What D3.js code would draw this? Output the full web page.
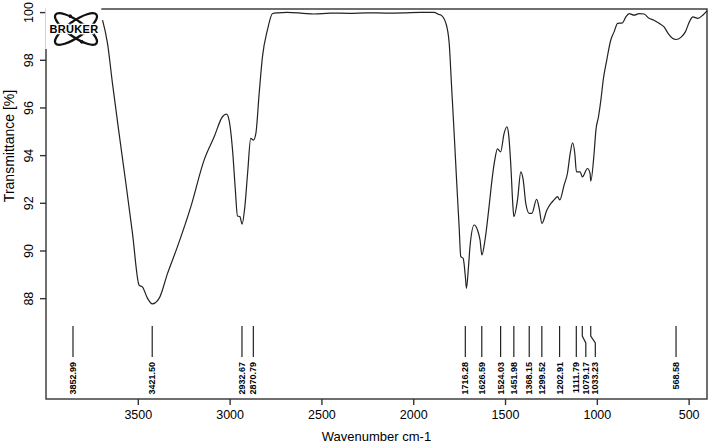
<!DOCTYPE html>
<html>
<head>
<meta charset="utf-8">
<script src="https://cdn.jsdelivr.net/npm/d3@7"></script>
<style>
  body { margin: 0; background: #fff; }
  text { font-family: "Liberation Sans", Arial, sans-serif; fill: #000; }
</style>
</head>
<body>
<div id="chart"></div>
<script>
// Spectrum (wavenumber cm-1, transmittance %)
var wavenumber = [3692, 3665, 3638, 3602, 3565, 3529, 3493, 3474, 3447, 3421, 3384, 3338, 3284, 3211, 3139, 3084, 3039, 3017, 3003, 2984, 2970, 2957, 2944, 2932, 2917, 2902, 2885, 2870, 2857, 2839, 2821, 2794, 2766, 2739, 2685, 2600, 2541, 2450, 2350, 2250, 2150, 2050, 1960, 1886, 1860, 1850, 1822, 1804, 1792, 1777, 1763, 1750, 1741, 1728, 1716, 1710, 1699, 1690, 1668, 1650, 1636, 1626, 1609, 1587, 1569, 1556, 1541, 1524, 1505, 1490, 1481, 1468, 1458, 1452, 1432, 1414, 1401, 1387, 1368, 1354, 1328, 1314, 1299, 1272, 1250, 1233, 1214, 1202, 1178, 1160, 1145, 1132, 1120, 1111, 1091, 1079, 1051, 1037, 1033, 1015, 1005, 991, 978, 964, 946, 924, 906, 887, 860, 842, 824, 797, 770, 743, 716, 689, 661, 634, 612, 588, 569, 542, 518, 496, 477, 450, 423, 400];
var transmittance = [99.66, 98.69, 97.01, 94.91, 92.82, 90.72, 88.55, 88.46, 87.99, 87.76, 87.99, 89.04, 90.16, 91.84, 93.79, 94.77, 95.61, 95.72, 95.47, 94.21, 92.68, 91.45, 91.42, 91.11, 91.84, 93.24, 94.70, 94.63, 94.91, 96.59, 98.13, 99.25, 99.94, 99.97, 99.99, 99.95, 99.92, 99.96, 99.95, 99.97, 99.96, 99.97, 99.99, 99.99, 99.90, 99.88, 99.53, 98.69, 97.01, 94.91, 92.82, 91.00, 89.74, 89.67, 88.90, 88.41, 89.32, 90.23, 91.07, 90.86, 90.44, 89.81, 90.44, 91.84, 93.09, 93.79, 94.26, 94.14, 94.91, 95.19, 94.91, 93.51, 91.98, 91.42, 92.12, 93.30, 92.96, 91.98, 91.56, 91.56, 92.15, 91.77, 91.14, 91.70, 91.98, 92.12, 92.26, 92.12, 92.75, 93.24, 94.07, 94.52, 94.07, 93.30, 93.30, 93.09, 93.44, 93.24, 92.91, 94.07, 95.05, 95.61, 96.31, 97.22, 97.99, 98.83, 99.17, 99.53, 99.55, 99.80, 99.94, 99.87, 99.94, 99.92, 99.74, 99.66, 99.53, 99.38, 99.11, 98.90, 98.85, 98.94, 99.17, 99.59, 99.80, 99.74, 99.87, 100.05];

// Labelled peaks
var peaks = [3852.99, 3421.50, 2932.67, 2870.79, 1716.28, 1626.59, 1524.03, 1451.98, 1368.15, 1299.52, 1202.91, 1111.79, 1079.17, 1033.23, 568.58];

var xTicks = [3500, 3000, 2500, 2000, 1500, 1000, 500];
var yTicks = [88, 90, 92, 94, 96, 98, 100];

var W = 709, H = 445;
var mL = 46, mR = 707, mT = 9, mB = 399;

var x = d3.scaleLinear().domain([4000, 400]).range([mL, mR]);
var y = d3.scaleLinear().domain([83.77, 100.13]).range([mB, mT]);

var svg = d3.select("#chart").append("svg")
  .attr("width", W)
  .attr("height", H);

// frame
svg.append("rect")
  .attr("x", mL).attr("y", mT)
  .attr("width", mR - mL).attr("height", mB - mT)
  .attr("fill", "none")
  .attr("stroke", "#333")
  .attr("stroke-width", 1.4);

// x axis
var xAxis = svg.append("g")
  .attr("transform", "translate(0," + mB + ")")
  .call(d3.axisBottom(x).tickValues(xTicks).tickFormat(d3.format("d")).tickSize(6).tickPadding(5));
xAxis.select(".domain").remove();
xAxis.selectAll("line").attr("stroke", "#333").attr("stroke-width", 1.4);
xAxis.selectAll("text")
  .style("font-family", '"Liberation Sans", Arial, sans-serif')
  .style("font-size", "12.5px")
  .attr("fill", "#000");

// y axis (labels rotated)
var yAxis = svg.append("g")
  .attr("transform", "translate(" + mL + ",0)")
  .call(d3.axisLeft(y).tickValues(yTicks).tickFormat(d3.format("d")).tickSize(6));
yAxis.select(".domain").remove();
yAxis.selectAll("line").attr("stroke", "#333").attr("stroke-width", 1.4);
yAxis.selectAll("text")
  .attr("x", null).attr("dy", null)
  .attr("text-anchor", "middle")
  .attr("transform", "translate(-13,0) rotate(-90)")
  .attr("fill", "#000")
  .style("font-family", '"Liberation Sans", Arial, sans-serif')
  .style("font-size", "12.5px");

// axis titles
svg.append("text")
  .attr("x", (mL + mR) / 2)
  .attr("y", 441)
  .attr("text-anchor", "middle")
  .style("font-size", "13px")
  .text("Wavenumber cm-1");

svg.append("text")
  .attr("transform", "translate(14,146) rotate(-90)")
  .attr("text-anchor", "middle")
  .style("font-size", "14px")
  .text("Transmittance [%]");

// spectrum
var data = wavenumber.map(function(w, i) { return [w, transmittance[i]]; });
var line = d3.line()
  .x(function(d) { return x(d[0]); })
  .y(function(d) { return y(d[1]); })
  .curve(d3.curveMonotoneX);

svg.append("path")
  .datum(data)
  .attr("d", line)
  .attr("fill", "none")
  .attr("stroke", "#222")
  .attr("stroke-width", 1.2);

// peak markers; push labels apart where they would overlap
var minGap = 9.5;
var labelX = [];
peaks.forEach(function(p, i) {
  var px = x(p);
  labelX.push(i > 0 ? Math.max(px, labelX[i - 1] + minGap) : px);
});

var pk = svg.append("g").attr("class", "peaks");
pk.selectAll("path")
  .data(peaks)
  .enter()
  .append("path")
  .attr("d", function(d, i) {
    var px = x(d), lx = labelX[i];
    if (Math.abs(lx - px) < 0.5) return "M" + px + ",326V357";
    return "M" + px + ",326V336L" + lx + ",343V357";
  })
  .attr("fill", "none")
  .attr("stroke", "#222")
  .attr("stroke-width", 1.2);

pk.selectAll("text")
  .data(peaks)
  .enter()
  .append("text")
  .attr("transform", function(d, i) { return "translate(" + labelX[i] + ",362) rotate(-90)"; })
  .attr("text-anchor", "end")
  .attr("dy", "0.35em")
  .style("font-size", "9px")
  .style("font-weight", "bold")
  .text(function(d) { return d.toFixed(2); });

// Bruker logo in the top-left corner
var logo = svg.append("g");
logo.append("rect")
  .attr("x", mL - 0.7).attr("y", mT - 1)
  .attr("width", 56).attr("height", 41)
  .attr("fill", "#fff");
[35, -35].forEach(function(a) {
  var g = logo.append("g").attr("transform", "rotate(" + a + ",76,29)");
  g.append("ellipse")
    .attr("cx", 76).attr("cy", 29)
    .attr("rx", 25).attr("ry", 8)
    .attr("fill", "none")
    .attr("stroke", "#111")
    .attr("stroke-width", 2.3);
  // little "electron" dots on each orbit
  [[64, 21.8], [88, 36.2]].forEach(function(p) {
    g.append("circle").attr("cx", p[0]).attr("cy", p[1]).attr("r", 1.8).attr("fill", "#111");
  });
});
logo.append("text")
  .attr("x", 74).attr("y", 33)
  .attr("text-anchor", "middle")
  .style("font-size", "11px")
  .style("font-weight", "bold")
  .style("letter-spacing", "0.3px")
  .attr("stroke", "#fff")
  .attr("stroke-width", 2.5)
  .attr("paint-order", "stroke")
  .text("BRUKER");
</script>
</body>
</html>
